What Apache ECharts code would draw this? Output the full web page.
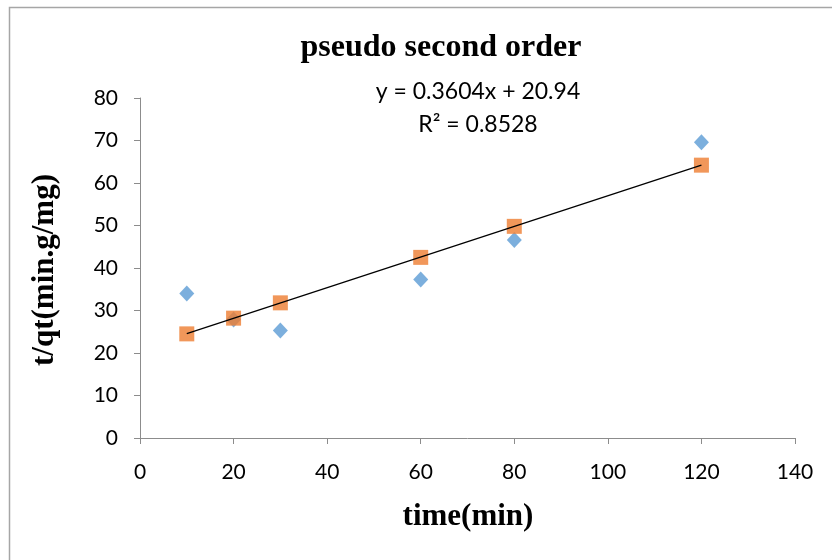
<!DOCTYPE html>
<html>
<head>
<meta charset="utf-8">
<script src="https://cdn.jsdelivr.net/npm/echarts@6/dist/echarts.min.js"></script>
<style>
  html, body { margin: 0; padding: 0; background: #ffffff; }
  #chart { width: 832px; height: 560px; }
</style>
</head>
<body>
<div id="chart"></div>
<script>
// Sampling times (min)
const timeMeasured = [10, 20, 30, 60, 80, 120];
// Measured t/qt values
const tqMeasured = [34.0, 27.9, 25.3, 37.3, 46.6, 69.6];
// Model t/qt values at the same times
const tqModel = [24.5, 28.2, 31.8, 42.5, 49.8, 64.2];
// Linear trendline: slope, intercept, R²
const trendSlope = 0.3604;
const trendIntercept = 20.94;
const trendR2 = 0.8528;
const trendRange = [10, 120];
// Axis ticks
const xTicks = [0, 20, 40, 60, 80, 100, 120, 140];
const yTicks = [0, 10, 20, 30, 40, 50, 60, 70, 80];

const chart = echarts.init(document.getElementById('chart'), null, { renderer: 'canvas' });

const pairs = (xs, ys) => xs.map((x, i) => [x, ys[i]]);
const trendData = trendRange.map(x => [x, trendSlope * x + trendIntercept]);

const labelFont = 'Lato, "Liberation Sans", sans-serif';
const serifFont = '"Liberation Serif", "DejaVu Serif", serif';
const axisColor = '#8c8c8c';

chart.setOption({
  animation: false,
  backgroundColor: '#ffffff',
  grid: { left: 140, right: 37, top: 98, bottom: 122, containLabel: false },
  xAxis: {
    type: 'value',
    min: xTicks[0],
    max: xTicks[xTicks.length - 1],
    interval: 20,
    splitLine: { show: false },
    axisLine: { show: true, onZero: false, lineStyle: { color: axisColor, width: 1 } },
    axisTick: { show: true, length: 6, lineStyle: { color: axisColor } },
    axisLabel: { margin: 24, color: '#000', fontSize: 21, fontFamily: labelFont }
  },
  yAxis: {
    type: 'value',
    min: yTicks[0],
    max: yTicks[yTicks.length - 1],
    interval: 10,
    splitLine: { show: false },
    axisLine: { show: true, onZero: false, lineStyle: { color: axisColor, width: 1 } },
    axisTick: { show: true, length: 6, lineStyle: { color: axisColor } },
    axisLabel: { margin: 22, color: '#000', fontSize: 21, fontFamily: labelFont }
  },
  series: [
    {
      name: 'measured',
      type: 'scatter',
      symbol: 'diamond',
      symbolSize: [15, 16],
      itemStyle: { color: '#5B9BD5' },
      data: pairs(timeMeasured, tqMeasured),
      z: 2
    },
    {
      name: 'model',
      type: 'scatter',
      symbol: 'rect',
      symbolSize: 15,
      itemStyle: { color: '#ED7D31' },
      data: pairs(timeMeasured, tqModel),
      z: 3
    },
    {
      name: 'trend',
      type: 'line',
      showSymbol: false,
      symbol: 'none',
      lineStyle: { color: '#000000', width: 1.3 },
      data: trendData,
      z: 4
    }
  ],
  graphic: [
    {
      type: 'rect',
      shape: { x: 9.5, y: 7.5, width: 900, height: 700 },
      style: { fill: 'none', stroke: '#a6a6a6', lineWidth: 1.5 },
      silent: true
    },
    {
      type: 'text',
      x: 441, y: 48,
      style: {
        text: 'pseudo second order',
        font: 'bold 32px ' + serifFont,
        fill: '#000',
        textAlign: 'center',
        textVerticalAlign: 'middle'
      }
    },
    {
      type: 'text',
      x: 478, y: 92,
      style: {
        text: 'y = ' + trendSlope.toFixed(4) + 'x + ' + trendIntercept.toFixed(2),
        font: '23px ' + labelFont,
        fill: '#000',
        textAlign: 'center',
        textVerticalAlign: 'middle'
      }
    },
    {
      type: 'text',
      x: 478, y: 125,
      style: {
        text: 'R² = ' + trendR2.toFixed(4),
        font: '23px ' + labelFont,
        fill: '#000',
        textAlign: 'center',
        textVerticalAlign: 'middle'
      }
    },
    {
      type: 'text',
      x: 468, y: 517,
      style: {
        text: 'time(min)',
        font: 'bold 31px ' + serifFont,
        fill: '#000',
        textAlign: 'center',
        textVerticalAlign: 'middle'
      }
    },
    {
      type: 'text',
      x: 45, y: 270,
      rotation: Math.PI / 2,
      style: {
        text: 't/qt(min.g/mg)',
        font: 'bold 31px ' + serifFont,
        fill: '#000',
        textAlign: 'center',
        textVerticalAlign: 'middle'
      }
    }
  ]
});
</script>
</body>
</html>
